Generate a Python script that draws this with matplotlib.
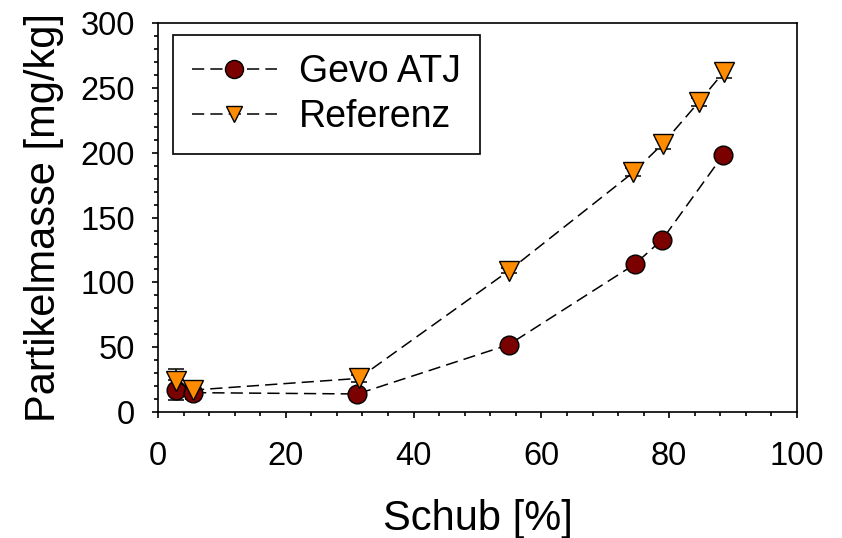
import matplotlib
matplotlib.use("Agg")
import matplotlib.pyplot as plt
from matplotlib.ticker import MultipleLocator

plt.rcParams['font.family'] = ['Liberation Sans', 'DejaVu Sans']

gevo_x = [2.8, 5.5, 31.2, 54.9, 74.6, 78.9, 88.4]
gevo_y = [17, 15, 14, 52, 114, 133, 198]
gevo_err = [8, 5, 2, 2, 2, 2, 2]

ref_x = [2.8, 5.5, 31.4, 54.9, 74.4, 79.0, 84.6, 88.5]
ref_y = [24, 17, 26, 109, 185, 207, 239, 262]
ref_err = [9, 5, 3, 2, 3, 4, 3, 4]

fig = plt.figure(figsize=(8.42, 5.38), dpi=100)
ax = fig.add_axes([0.1876, 0.234, 0.759, 0.723])

dash = (0, (8, 4))
for x, y, e in [(gevo_x, gevo_y, gevo_err), (ref_x, ref_y, ref_err)]:
    ax.errorbar(x, y, yerr=e, fmt='none', ecolor='black', elinewidth=1.1,
                capsize=6, capthick=1.1, zorder=2)

ax.plot(gevo_x, gevo_y, ls=dash, color='black', lw=1.1, marker='o',
        markerfacecolor='#7b0000', markeredgecolor='black', markeredgewidth=1.0,
        markersize=13.5, label='Gevo ATJ', zorder=3)
ax.plot(ref_x, ref_y, ls=dash, color='black', lw=1.1, marker='v',
        markerfacecolor='#ff8c00', markeredgecolor='black', markeredgewidth=1.0,
        markersize=14, label='Referenz', zorder=4)

ax.set_xlim(0, 100)
ax.set_ylim(0, 300)
ax.xaxis.set_major_locator(MultipleLocator(20))
ax.xaxis.set_minor_locator(MultipleLocator(4))
ax.yaxis.set_major_locator(MultipleLocator(50))
ax.yaxis.set_minor_locator(MultipleLocator(10))
ax.tick_params(which='major', direction='out', length=4.5, width=1.2, labelsize=23.5)
ax.tick_params(axis='x', which='major', pad=16)
ax.tick_params(axis='y', which='major', pad=12)
ax.tick_params(which='minor', direction='out', length=3, width=1.2)
for s in ax.spines.values():
    s.set_linewidth(1.2)

ax.set_xlabel('Schub [%]', fontsize=30, labelpad=20)
ax.set_ylabel('Partikelmasse [mg/kg]', fontsize=30, labelpad=12)

leg = ax.legend(loc='upper left', bbox_to_anchor=(0.0235, 0.969), fontsize=27, frameon=True,
                fancybox=False, edgecolor='black', handlelength=2.27, borderpad=0.5,
                labelspacing=0.24, handletextpad=0.6, borderaxespad=0,
                framealpha=1)
leg.get_frame().set_linewidth(1.2)
hs = leg.legend_handles
hs[0].set_markersize(13)
hs[1].set_markersize(11)

fig.savefig('out.png', dpi=100)
